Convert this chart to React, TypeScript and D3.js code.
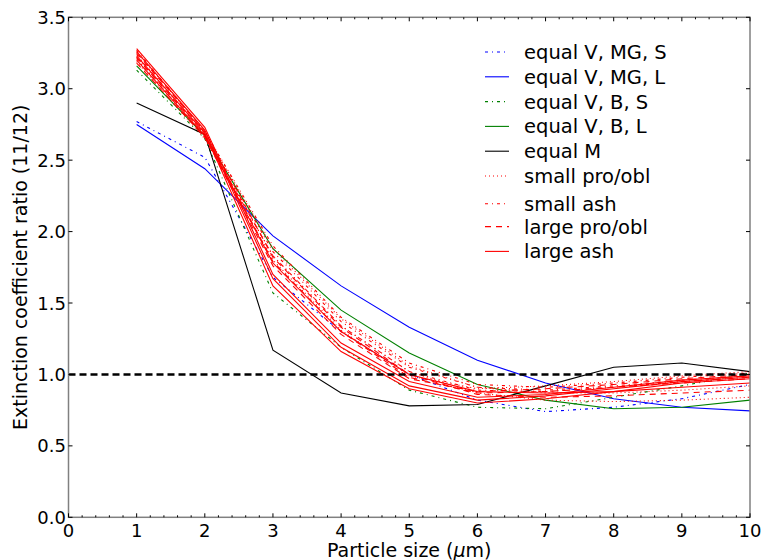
import React from 'react';
import * as d3 from 'd3';

// particle sizes (um)
const sizes = [1, 2, 3, 4, 5, 6, 7, 8, 9, 10];

const eqVMGS = [2.77, 2.52, 1.68, 1.30, 1.00, 0.82, 0.74, 0.77, 0.83, 0.93];
const eqVMGL = [2.75, 2.44, 1.97, 1.62, 1.33, 1.10, 0.94, 0.83, 0.77, 0.745];
const eqVBS = [3.13, 2.65, 1.57, 1.19, 0.89, 0.77, 0.76, 0.84, 0.92, 1.01];
const eqVBL = [3.16, 2.67, 1.88, 1.45, 1.15, 0.93, 0.82, 0.76, 0.77, 0.82];
const eqM = [2.90, 2.68, 1.17, 0.87, 0.78, 0.79, 0.92, 1.05, 1.08, 1.02];

const smallProObl = [
  [3.26, 2.70, 1.88, 1.39, 1.06, 0.91, 0.87, 0.87, 0.89, 0.92],
  [3.22, 2.67, 1.83, 1.34, 1.02, 0.87, 0.82, 0.81, 0.82, 0.84],
  [3.19, 2.65, 1.80, 1.31, 0.99, 0.90, 0.92, 0.95, 0.99, 1.02],
];
const smallAsh = [
  [3.27, 2.70, 1.90, 1.40, 1.08, 0.93, 0.91, 0.94, 0.98, 1.01],
  [3.24, 2.68, 1.86, 1.37, 1.05, 0.91, 0.89, 0.92, 0.96, 0.99],
  [3.21, 2.66, 1.83, 1.34, 1.02, 0.89, 0.88, 0.91, 0.95, 0.98],
];
const largeProObl = [
  [3.25, 2.70, 1.82, 1.33, 1.00, 0.86, 0.84, 0.85, 0.87, 0.89],
  [3.22, 2.68, 1.79, 1.30, 0.98, 0.87, 0.88, 0.91, 0.94, 0.97],
  [3.18, 2.66, 1.76, 1.28, 0.97, 0.88, 0.90, 0.93, 0.97, 1.00],
];
const largeAsh = [
  [3.28, 2.73, 1.70, 1.22, 0.95, 0.84, 0.86, 0.91, 0.96, 0.99],
  [3.26, 2.71, 1.67, 1.19, 0.92, 0.82, 0.85, 0.90, 0.95, 0.98],
  [3.23, 2.69, 1.62, 1.16, 0.90, 0.80, 0.83, 0.88, 0.94, 0.97],
  [3.20, 2.67, 1.78, 1.30, 1.00, 0.88, 0.87, 0.88, 0.91, 0.94],
];

const legendLabels = [
  'equal V, MG, S', 'equal V, MG, L', 'equal V, B, S', 'equal V, B, L', 'equal M',
  'small pro/obl', 'small ash', 'large pro/obl', 'large ash',
];

const xTicks = [0, 1, 2, 3, 4, 5, 6, 7, 8, 9, 10];
const yTicks = [0, 0.5, 1, 1.5, 2, 2.5, 3, 3.5];

// line styles per legend entry
const styles = [
  { color: '#0000ff', dash: '3,4,1,4' },
  { color: '#0000ff', dash: null },
  { color: '#008000', dash: '3,4,1,4' },
  { color: '#008000', dash: null },
  { color: '#000000', dash: null },
  { color: '#ff0000', dash: '1,3' },
  { color: '#ff0000', dash: '3,4,1,4' },
  { color: '#ff0000', dash: '6,5' },
  { color: '#ff0000', dash: null },
];

export default function App() {
  const W = 765, H = 560;
  const left = 68.5, right = 750, top = 17.3, bottom = 517.3;
  const font = 'DejaVu Sans, sans-serif';
  const axisColor = '#808080';

  const x = d3.scaleLinear().domain([0, 10]).range([left, right]);
  const y = d3.scaleLinear().domain([0, 3.5]).range([bottom, top]);
  const line = d3.line<number>().x((_, i) => x(sizes[i])).y((d) => y(d));

  const series: { vals: number[]; style: number }[] = [
    { vals: eqVMGS, style: 0 },
    { vals: eqVMGL, style: 1 },
    { vals: eqVBS, style: 2 },
    { vals: eqVBL, style: 3 },
    { vals: eqM, style: 4 },
    ...smallProObl.map((v) => ({ vals: v, style: 5 })),
    ...smallAsh.map((v) => ({ vals: v, style: 6 })),
    ...largeProObl.map((v) => ({ vals: v, style: 7 })),
    ...largeAsh.map((v) => ({ vals: v, style: 8 })),
  ];

  const minorX = d3.range(0, 10.01, 0.2).filter((v) => Math.abs(v - Math.round(v)) > 1e-6);

  const legendY = (i: number) => 52 + i * 24.8 + (i >= 6 ? 3 : 0) - (i >= 7 ? 2 : 0);

  return (
    <svg width={W} height={H} style={{ position: 'absolute', left: 0, top: 0, background: '#fff' }}>
      {series.map((s, i) => (
        <path
          key={i}
          d={line(s.vals) || ''}
          fill="none"
          stroke={styles[s.style].color}
          strokeWidth={1.1}
          strokeDasharray={styles[s.style].dash || undefined}
        />
      ))}

      {/* reference line at ratio 1 */}
      <line x1={x(0)} x2={x(10)} y1={y(1)} y2={y(1)} stroke="#000" strokeWidth={2.6} strokeDasharray="7,4" />

      {/* frame */}
      <rect x={left} y={top} width={right - left} height={bottom - top} fill="none" stroke={axisColor} strokeWidth={1.5} />

      {xTicks.map((t) => (
        <g key={'x' + t}>
          <line x1={x(t)} x2={x(t)} y1={bottom} y2={bottom - 4} stroke="#000" />
          <line x1={x(t)} x2={x(t)} y1={top} y2={top + 4} stroke="#000" />
          <text x={x(t)} y={536.5} textAnchor="middle" fontFamily={font} fontSize={18}>{t}</text>
        </g>
      ))}
      {minorX.map((t) => (
        <g key={'mx' + t}>
          <line x1={x(t)} x2={x(t)} y1={bottom} y2={bottom - 2} stroke="#000" />
          <line x1={x(t)} x2={x(t)} y1={top} y2={top + 2} stroke="#000" />
        </g>
      ))}
      {yTicks.map((t) => (
        <g key={'y' + t}>
          <line x1={left} x2={left + 4} y1={y(t)} y2={y(t)} stroke="#000" />
          <line x1={right} x2={right - 4} y1={y(t)} y2={y(t)} stroke="#000" />
          <text x={66} y={y(t) + 6.5} textAnchor="end" fontFamily={font} fontSize={18}>{t.toFixed(1)}</text>
        </g>
      ))}

      <text x={(left + right) / 2} y={556.5} textAnchor="middle" fontFamily={font} fontSize={19}>
        Particle size (<tspan fontStyle="italic">μ</tspan>m)
      </text>
      <text
        transform={`translate(27,${(top + bottom) / 2}) rotate(-90)`}
        textAnchor="middle"
        fontFamily={font}
        fontSize={19}
      >
        Extinction coefficient ratio (11/12)
      </text>

      {legendLabels.map((lab, i) => (
        <g key={lab}>
          <line
            x1={485}
            x2={509}
            y1={legendY(i)}
            y2={legendY(i)}
            stroke={styles[i].color}
            strokeWidth={1.1}
            strokeDasharray={styles[i].dash || undefined}
          />
          <text x={524} y={legendY(i) + 7} fontFamily={font} fontSize={19.5}>{lab}</text>
        </g>
      ))}
    </svg>
  );
}
